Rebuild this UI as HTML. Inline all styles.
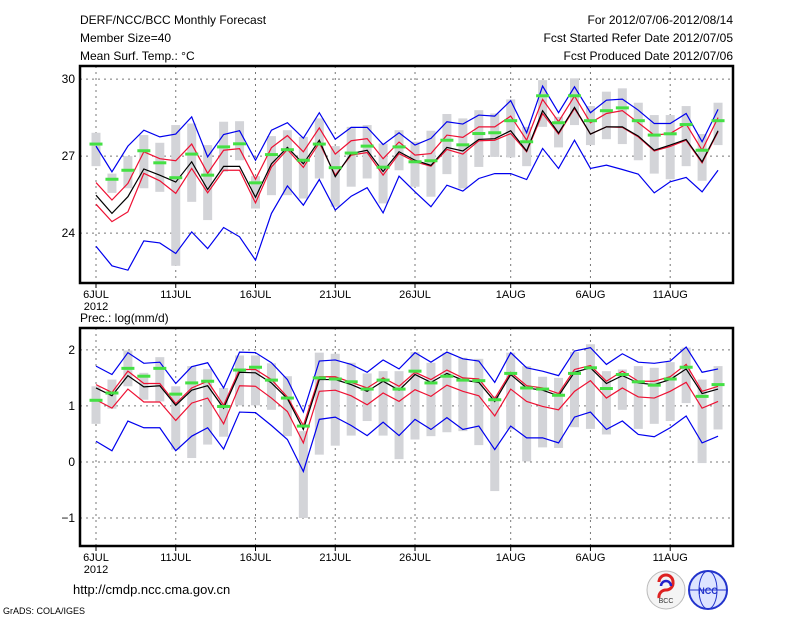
<!DOCTYPE html>
<html><head><meta charset="utf-8"><style>
body{margin:0;background:#fff;}
svg{display:block;font-family:"Liberation Sans",sans-serif;}
</style></head><body>
<svg id="c" width="800" height="618" viewBox="0 0 800 618" xmlns="http://www.w3.org/2000/svg">
<rect width="800" height="618" fill="#fff"/>
<g font-size="12" fill="#000">
<text x="80" y="24">DERF/NCC/BCC Monthly Forecast</text>
<text x="80" y="42">Member Size=40</text>
<text x="80" y="60">Mean Surf. Temp.: °C</text>
<text x="733" y="24" text-anchor="end">For 2012/07/06-2012/08/14</text>
<text x="733" y="42" text-anchor="end">Fcst Started Refer Date 2012/07/05</text>
<text x="733" y="60" text-anchor="end">Fcst Produced Date 2012/07/06</text>
<text x="80" y="322">Prec.: log(mm/d)</text>
<text x="73" y="594" font-size="13">http://cmdp.ncc.cma.gov.cn</text>
<text x="3" y="614" font-size="9">GrADS: COLA/IGES</text>
</g>
<g>
<circle cx="666" cy="590" r="19" fill="#f4f4f4" stroke="#bbb"/>
<path d="M659 582 a7 7 0 1 1 14 0 a7 7 0 0 1 -7 8 a7 7 0 0 0 -7 8" fill="none" stroke="#d22" stroke-width="3"/>
<path d="M661 586 a5 5 0 1 1 10 0" fill="none" stroke="#22c" stroke-width="2.5"/>
<text x="666" y="603" font-size="7" text-anchor="middle" fill="#333">BCC</text>
</g>
<g>
<circle cx="708" cy="590" r="19" fill="#dde4ff" stroke="#23c" stroke-width="2"/>
<ellipse cx="708" cy="590" rx="9" ry="19" fill="none" stroke="#23c"/>
<line x1="689" y1="590" x2="727" y2="590" stroke="#23c"/>
<text x="708" y="594" font-size="9" text-anchor="middle" fill="#23c" font-weight="bold">NCC</text>
</g>
<g id="top"></g><g id="bot"></g>
</svg>
<script>
// ---- data ----
const dayLabels=["6JUL","11JUL","16JUL","21JUL","26JUL","1AUG","6AUG","11AUG"];
const dayLabelIdx=[0,5,10,15,20,26,31,36];
const tTicks=[24,27,30];
const pTicks=[-1,0,1,2];
const tMean=[25.48,24.77,25.42,26.5,26.26,25.99,26.78,25.7,26.6,26.6,25.4,26.7,27.34,26.7,27.62,26.2,27.1,27.23,26.4,27.17,26.84,26.64,27.34,27.2,27.65,27.68,27.99,27.2,28.77,27.9,28.9,27.86,28.14,28.14,27.78,27.23,27.43,27.65,26.78,27.99];
const tRedHi=[25.97,25.29,25.94,27.17,26.9,26.82,27.47,26.33,27.23,27.29,26.1,27.33,27.8,27.17,28.1,27.08,27.6,27.68,26.9,27.55,27.04,27.1,27.82,27.73,28.14,28.14,28.56,27.62,29.21,28.34,29.34,28.3,28.66,28.77,28.3,27.82,27.88,28.25,27.23,28.5];
const tRedLo=[25.13,24.45,24.83,26.33,26.04,25.55,26.52,25.57,26.45,26.45,25.18,26.58,27.26,26.56,27.52,26.26,27.04,27.14,26.26,27.1,26.78,26.61,27.26,27.08,27.6,27.62,27.88,27.17,28.66,27.86,28.86,27.86,28.14,28.12,27.75,27.2,27.38,27.62,26.74,27.95];
const tBlueHi=[27.39,26.39,27.39,28.01,27.75,27.86,28.53,26.97,27.84,27.99,26.84,28.01,28.3,27.7,28.69,27.66,28.12,28.12,27.45,27.91,27.43,27.69,28.34,28.25,28.6,28.56,29.16,27.91,29.73,28.69,29.7,28.69,29.18,29.22,28.79,28.27,28.27,28.66,27.56,28.82];
const tBlueLo=[23.49,22.73,22.56,23.7,23.62,23.21,24.05,23.4,24.22,23.86,22.95,24.77,25.84,25.09,26.09,24.9,25.44,25.77,24.79,26.22,25.61,25.03,25.87,25.64,26.13,26.32,26.32,26.09,27.3,26.52,27.62,26.52,26.65,26.48,26.3,25.57,26.0,26.17,25.61,26.45];
const tGreen=[27.47,26.1,26.45,27.21,26.74,26.16,27.08,26.26,27.36,27.48,25.96,27.06,27.25,26.84,27.47,26.55,27.12,27.39,26.57,27.36,26.78,26.82,27.62,27.44,27.88,27.91,28.38,27.56,29.35,28.3,29.35,28.38,28.77,28.88,28.38,27.82,27.87,28.23,27.23,28.38];
const tMax=[27.91,26.32,27.0,27.82,27.52,28.21,28.27,27.43,28.34,28.36,26.22,27.78,28.01,27.75,28.47,27.39,28.14,28.21,27.49,28.01,27.56,27.99,28.64,28.47,28.79,28.66,29.21,28.14,29.96,28.53,30.03,28.95,29.51,29.64,29.08,28.6,28.6,28.95,27.86,29.08];
const tMin=[26.61,25.57,25.75,25.75,25.61,22.73,25.22,24.51,26.39,26.84,24.96,25.48,25.48,25.35,26.13,25.03,25.81,26.13,25.16,26.45,25.81,25.42,26.3,25.74,26.58,26.97,26.95,26.61,28.14,27.34,28.21,27.43,27.66,27.47,26.84,26.32,26.1,26.61,26.04,27.43];
const pMean=[1.32,1.18,1.54,1.34,1.36,1.01,1.28,1.36,0.96,1.6,1.59,1.41,1.13,0.58,1.47,1.47,1.38,1.26,1.44,1.28,1.56,1.42,1.58,1.46,1.42,1.08,1.56,1.32,1.28,1.18,1.6,1.68,1.4,1.54,1.41,1.38,1.47,1.66,1.22,1.3];
const pRedHi=[1.38,1.24,1.62,1.4,1.4,1.04,1.32,1.44,1.01,1.65,1.65,1.47,1.16,0.65,1.52,1.52,1.42,1.32,1.5,1.35,1.6,1.47,1.64,1.5,1.48,1.13,1.6,1.36,1.32,1.22,1.65,1.72,1.44,1.62,1.44,1.44,1.52,1.74,1.26,1.35];
const pRedLo=[1.11,0.96,1.3,1.07,1.07,0.74,1.05,1.14,0.68,1.36,1.35,1.14,0.9,0.34,1.26,1.28,1.18,1.02,1.23,1.08,1.29,1.17,1.37,1.26,1.18,0.82,1.3,1.08,0.99,0.93,1.26,1.45,1.14,1.32,1.16,1.14,1.26,1.42,0.96,1.08];
const pBlueHi=[1.71,1.56,1.95,1.76,1.78,1.4,1.7,1.77,1.32,1.96,1.95,1.77,1.47,0.89,1.8,1.82,1.74,1.6,1.82,1.66,1.95,1.78,1.96,1.84,1.8,1.42,1.95,1.68,1.62,1.54,1.98,2.04,1.74,1.93,1.78,1.76,1.8,2.05,1.6,1.66];
const pBlueLo=[0.37,0.2,0.73,0.61,0.61,0.2,0.46,0.61,0.23,0.89,0.88,0.65,0.4,-0.17,0.76,0.8,0.65,0.47,0.71,0.47,0.76,0.58,0.79,0.58,0.64,0.22,0.64,0.43,0.43,0.34,0.8,0.89,0.58,0.73,0.49,0.45,0.61,0.82,0.34,0.46];
const pGreen=[1.1,1.23,1.67,1.53,1.67,1.21,1.41,1.44,0.99,1.64,1.69,1.46,1.14,0.64,1.5,1.48,1.43,1.3,1.46,1.3,1.62,1.41,1.53,1.46,1.45,1.11,1.58,1.32,1.3,1.19,1.58,1.68,1.31,1.56,1.43,1.37,1.48,1.69,1.17,1.38];
const pMax=[1.35,1.47,1.99,1.59,1.87,1.35,1.71,1.66,1.32,1.9,1.9,1.76,1.53,0.55,1.95,1.93,1.77,1.58,1.62,1.62,1.96,1.77,1.95,1.86,1.84,1.18,1.95,1.71,1.52,1.5,1.96,2.1,1.62,1.65,1.71,1.68,1.78,2.04,1.47,1.71];
const pMin=[0.68,0.95,1.35,1.11,1.08,0.22,0.07,0.31,0.45,1.01,1.01,0.93,0.46,-1.0,0.13,0.29,0.47,0.73,0.47,0.05,0.4,0.46,0.53,0.55,0.3,-0.52,0.58,0.01,0.26,0.25,0.62,0.59,0.49,0.93,0.59,0.68,0.73,1.05,-0.02,0.58];

const NS="http://www.w3.org/2000/svg";
const X0=96, DX=15.95, L=80, R=733;
function xAt(i){return X0+i*DX;}
function mk(tag,attrs,parent){const e=document.createElementNS(NS,tag);for(const k in attrs)e.setAttribute(k,attrs[k]);parent.appendChild(e);return e;}

function panel(g,top,bot,vTop,vBot,ticks,series,mx,mn,green,pfx){
  const y=v=>top+(vTop-v)/(vTop-vBot)*(bot-top);
  // grid
  ticks.forEach(t=>{const l=mk('line',{x1:L,x2:R,y1:y(t),y2:y(t),stroke:'#777','stroke-dasharray':'2,4','stroke-width':1},g);
    
    const tx=mk('text',{x:L-5,y:y(t)+4,'text-anchor':'end','font-size':12},g);tx.textContent=(t<0?'\u2212'+(-t):t);
    });
  dayLabelIdx.forEach((d,k)=>{const x=xAt(d);
    const l=mk('line',{x1:x,x2:x,y1:top,y2:bot,stroke:'#777','stroke-dasharray':'2,4','stroke-width':1},g);
    
    const tk=mk('line',{x1:x,x2:x,y1:bot,y2:bot+5,stroke:'#000'},g);
    
    const tx=mk('text',{x:x,y:bot+15,'text-anchor':'middle','font-size':11},g);tx.textContent=dayLabels[k];
    });
  const yr=mk('text',{x:X0,y:bot+27,'text-anchor':'middle','font-size':11},g);yr.textContent='2012';
  
  // range bars
  mx.forEach((v,i)=>{const r=mk('rect',{x:xAt(i)-4.5,y:y(v),width:9,height:y(mn[i])-y(v),fill:'#d3d4d8'},g);
    });
  // lines
  series.forEach(([arr,col,nm])=>{const p=mk('polyline',{points:arr.map((v,i)=>xAt(i)+','+y(v)).join(' '),fill:'none',stroke:col,'stroke-width':1.2},g);
    });
  green.forEach((v,i)=>{const r=mk('rect',{x:xAt(i)-6.5,y:y(v)-1.5,width:13,height:3,fill:'#44e044'},g);
    });
  const f=mk('rect',{x:L,y:top,width:R-L,height:bot-top,fill:'none',stroke:'#000','stroke-width':2.5},g);
  
}
panel(document.getElementById('top'),66,283,30.51,22.06,tTicks,
  [[tBlueHi,'#0000ee','temp-upper-blue-line'],[tBlueLo,'#0000ee','temp-lower-blue-line'],[tRedHi,'#ee1133','temp-upper-red-line'],[tRedLo,'#ee1133','temp-lower-red-line'],[tMean,'#000','temp-mean-line']],
  tMax,tMin,tGreen,'temp');
panel(document.getElementById('bot'),328,546,2.39,-1.5,pTicks,
  [[pBlueHi,'#0000ee','prec-upper-blue-line'],[pBlueLo,'#0000ee','prec-lower-blue-line'],[pRedHi,'#ee1133','prec-upper-red-line'],[pRedLo,'#ee1133','prec-lower-red-line'],[pMean,'#000','prec-mean-line']],
  pMax,pMin,pGreen,'prec');
</script>
</body></html>
